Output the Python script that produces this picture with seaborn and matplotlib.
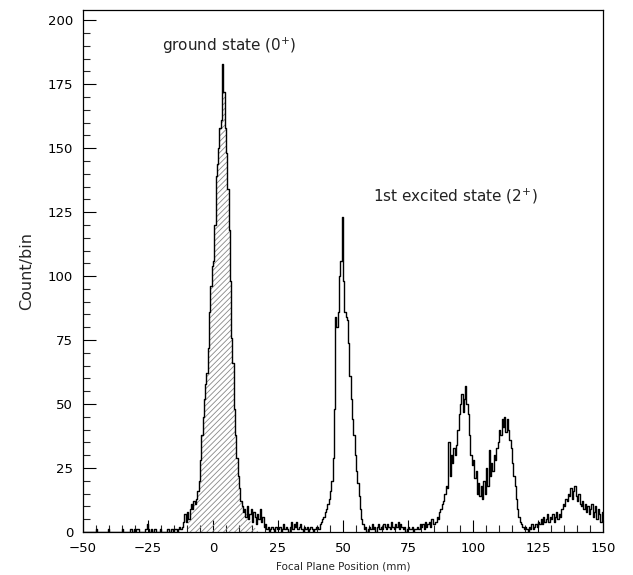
import numpy as np
import pandas as pd
import seaborn as sns
import matplotlib
matplotlib.use("Agg")
import matplotlib.pyplot as plt
from matplotlib.ticker import MultipleLocator

# ---- data: counts per 0.5 mm bin from -50 to 150 mm ----
bin_start = -50.0
bin_end = 150.0
bin_width = 0.5
counts = [
    0, 0, 0, 0, 0, 0, 0, 0, 0, 0,            # -50
    1, 0, 0, 0, 0, 0, 0, 0, 0, 1,            # -45
    0, 0, 0, 0, 0, 0, 0, 0, 0, 0,            # -40
    1, 0, 0, 0, 0, 0, 1, 1, 0, 1,            # -35
    0, 1, 1, 0, 0, 0, 0, 0, 1, 3,            # -30
    1, 0, 1, 0, 0, 1, 0, 0, 0, 1,            # -25
    0, 0, 0, 0, 0, 1, 0, 0, 1, 0,            # -20
    1, 1, 0, 1, 2, 1, 2, 4, 7, 4,            # -15
    8, 5, 9, 11, 9, 12, 11, 13, 16, 20,      # -10
    28, 38, 45, 52, 58, 62, 72, 86, 96, 104,  # -5
    106, 120, 139, 144, 150, 158, 161, 183, 172, 158,  # 0
    148, 134, 118, 98, 76, 66, 48, 38, 29, 22,  # 5
    17, 12, 10, 8, 9, 6, 10, 5, 7, 9,        # 10
    4, 8, 6, 3, 7, 5, 9, 4, 6, 2,            # 15
    3, 1, 2, 0, 1, 2, 1, 0, 2, 1,            # 20
    1, 2, 0, 1, 3, 1, 2, 1, 0, 2,            # 25
    4, 1, 3, 2, 4, 1, 2, 3, 1, 0,            # 30
    2, 1, 2, 0, 1, 2, 1, 0, 1, 2,            # 35
    2, 1, 3, 4, 5, 6, 8, 9, 11, 13,          # 40
    16, 20, 29, 48, 84, 80, 86, 100, 106, 123,  # 45
    98, 86, 84, 83, 74, 61, 52, 44, 38, 30,  # 50
    24, 19, 14, 9, 5, 3, 1, 2, 0, 1,         # 55
    2, 1, 3, 1, 2, 0, 2, 3, 1, 2,            # 60
    1, 3, 2, 1, 3, 2, 1, 4, 2, 1,            # 65
    3, 2, 4, 1, 3, 2, 1, 2, 0, 1,            # 70
    2, 1, 1, 2, 0, 1, 1, 2, 1, 3,            # 75
    2, 3, 1, 4, 2, 3, 4, 2, 5, 3,            # 80
    3, 4, 6, 5, 8, 9, 11, 12, 15, 18,        # 85
    17, 35, 22, 30, 27, 33, 30, 34, 40, 46,  # 90
    50, 54, 47, 52, 57, 50, 46, 38, 30, 26,  # 95
    28, 21, 24, 15, 19, 14, 18, 13, 20, 15,  # 100
    25, 18, 32, 22, 27, 24, 30, 28, 33, 35,  # 105
    40, 38, 44, 41, 45, 39, 44, 40, 36, 33,  # 110
    27, 22, 18, 13, 9, 6, 4, 3, 2, 1,        # 115
    2, 1, 0, 2, 1, 3, 1, 2, 3, 2,            # 120
    4, 3, 5, 3, 6, 4, 5, 7, 4, 6,            # 125
    5, 7, 4, 6, 8, 5, 7, 6, 9, 11,           # 130
    10, 13, 12, 15, 14, 17, 13, 16, 18, 14,  # 135
    12, 15, 11, 10, 12, 9, 11, 8, 10, 7,     # 140
    9, 11, 6, 8, 10, 5, 9, 7, 4, 8,          # 145
]

# hatched ground-state region (mm range) and its low tail envelope
gs_range = [-9.5, 11.0]
gs_tail_x = [11.0, 13.0, 15.0, 17.5]
gs_tail_y = [12, 7, 3, 0]

labels = ["ground state (0$^{+}$)", "1st excited state (2$^{+}$)"]
label_x = [-19.5, 61.5]
label_y = [190, 131]

x_ticks = [-50, -25, 0, 25, 50, 75, 100, 125, 150]
y_ticks = [0, 25, 50, 75, 100, 125, 150, 175, 200]

# ---- build dataframe ----
n = len(counts)
edges = bin_start + bin_width * np.arange(n + 1)
centers = edges[:-1] + bin_width / 2
df = pd.DataFrame({"pos": centers, "count": counts})

sns.set_theme(style="ticks")
plt.rcParams["font.family"] = ["DejaVu Sans"]
plt.rcParams["hatch.linewidth"] = 0.6
plt.rcParams["hatch.color"] = "#888888"

fig = plt.figure(figsize=(6.33, 5.75), dpi=100)
ax = fig.add_axes([0.131, 0.0748, 0.8216, 0.9078])

# hatched fill under ground state peak
cnt = np.array(counts, dtype=float)
mask = (edges[:-1] >= gs_range[0]) & (edges[:-1] < gs_range[1])
hx = np.append(edges[:-1][mask], edges[:-1][mask][-1] + bin_width)
hy = np.append(cnt[mask], cnt[mask][-1])
ax.fill_between(hx, hy, step="post", facecolor="none",
                edgecolor="#888888", hatch="//////", linewidth=0)
ax.fill_between(gs_tail_x, gs_tail_y, facecolor="none",
                edgecolor="#888888", hatch="//////", linewidth=0)

sns.histplot(data=df, x="pos", weights="count", binwidth=bin_width,
             binrange=(bin_start, bin_end), element="step",
             fill=False, color="black", linewidth=1.0, ax=ax)

ax.set_xlim(-50, 150)
ax.set_ylim(0, 204)
ax.set_xticks(x_ticks)
ax.set_yticks(y_ticks)
ax.xaxis.set_minor_locator(MultipleLocator(5))
ax.yaxis.set_minor_locator(MultipleLocator(5))
ax.tick_params(which="major", direction="in", length=9, width=0.8,
               labelsize=9.5, colors="black", top=False, right=False)
ax.tick_params(which="minor", direction="in", length=5, width=0.8,
               top=False, right=False)
ax.tick_params(axis="x", which="major", pad=7)
ax.tick_params(axis="y", which="major", pad=7)
for s in ax.spines.values():
    s.set_visible(True)
    s.set_linewidth(0.9)
    s.set_color("black")

ax.set_xlabel("Focal Plane Position (mm)", fontsize=7.5, labelpad=5)
ax.set_ylabel("Count/bin", fontsize=11.5, labelpad=10)

for t, x, y in zip(labels, label_x, label_y):
    ax.text(x, y, t, fontsize=11, va="center", ha="left", color="#222222")

fig.savefig("out.png", dpi=100)
